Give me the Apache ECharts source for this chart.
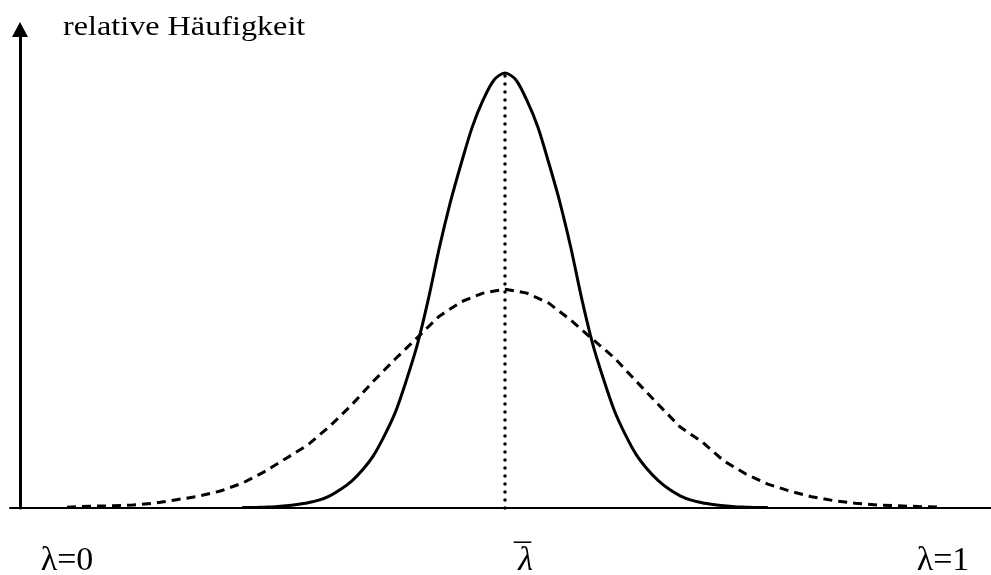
<!DOCTYPE html>
<html>
<head>
<meta charset="utf-8">
<script src="https://cdn.jsdelivr.net/npm/echarts@6/dist/echarts.min.js"></script>
<style>html,body{margin:0;padding:0;background:#fff}#c{width:991px;height:575px}</style>
</head>
<body>
<div id="c"></div>
<script>
// wide distribution (dashed): lambda grid 0 .. 1, step 0.025
const wideLambda = [0,0.025,0.05,0.075,0.1,0.125,0.15,0.175,0.2,0.225,0.25,0.275,0.3,0.325,0.35,0.375,0.4,0.425,0.45,0.475,0.5,0.525,0.55,0.575,0.6,0.625,0.65,0.675,0.7,0.725,0.75,0.775,0.8,0.825,0.85,0.875,0.9,0.925,0.95,0.975,1];
const wideValues = [0.002,0.004,0.005,0.007,0.011,0.019,0.027,0.039,0.057,0.083,0.114,0.145,0.188,0.237,0.292,0.343,0.392,0.441,0.474,0.494,0.503,0.494,0.471,0.432,0.388,0.345,0.291,0.238,0.186,0.152,0.108,0.078,0.055,0.039,0.026,0.017,0.011,0.007,0.005,0.003,0.002];
// narrow distribution (solid): lambda grid 0.2 .. 0.8, step 0.0125
const narrowLambda = [0.2,0.2125,0.225,0.2375,0.25,0.2625,0.275,0.2875,0.3,0.3125,0.325,0.3375,0.35,0.3625,0.375,0.3875,0.4,0.4125,0.425,0.4375,0.45,0.4625,0.475,0.4875,0.5,0.5125,0.525,0.5375,0.55,0.5625,0.575,0.5875,0.6,0.6125,0.625,0.6375,0.65,0.6625,0.675,0.6875,0.7,0.7125,0.725,0.7375,0.75,0.7625,0.775,0.7875,0.8];
const narrowValues = [0.001,0.001,0.002,0.003,0.005,0.008,0.012,0.018,0.028,0.043,0.062,0.088,0.121,0.167,0.221,0.294,0.376,0.480,0.598,0.702,0.792,0.875,0.938,0.984,1.000,0.984,0.937,0.876,0.793,0.704,0.600,0.482,0.378,0.296,0.223,0.168,0.122,0.089,0.063,0.043,0.028,0.018,0.012,0.008,0.005,0.003,0.002,0.001,0.001];
// mean and its height (dotted line)
const lambdaBar = 0.5;
const peakValue = 1.0;
// tick labels
const tickValues = [0, 0.5, 1];
const tickLabels = ['λ=0', 'λ', 'λ=1'];
const yAxisTitle = 'relative Häufigkeit';

const narrowData = narrowLambda.map((x, i) => [x, narrowValues[i]]);
const wideData = wideLambda.map((x, i) => [x, wideValues[i]]);

const chart = echarts.init(document.getElementById('c'), null, {renderer: 'canvas'});
const serif = '"Liberation Serif", "Times New Roman", serif';
chart.setOption({
  animation: false,
  backgroundColor: '#fff',
  grid: {left: 10, right: 0, top: 29.5, bottom: 67, containLabel: false, outerBoundsMode: 'none'},
  xAxis: {
    type: 'value',
    min: -57 / 876,
    max: 1 + 48 / 876,
    axisLine: {show: true, onZero: true, lineStyle: {color: '#000', width: 2}},
    axisTick: {show: false},
    splitLine: {show: false},
    axisLabel: {
      show: true,
      customValues: tickValues,
      margin: 36,
      color: '#000',
      fontSize: 34,
      lineHeight: 34,
      fontFamily: serif,
      hideOverlap: false,
      formatter: function (v) {
        const i = tickValues.indexOf(v);
        if (i < 0) return '';
        if (i === 1) return '{ov|\u00AF}\n{it|' + tickLabels[i] + '}';
        return tickLabels[i];
      },
      rich: {
        ov: {fontSize: 34, fontFamily: serif, color: '#000', lineHeight: 11.3, align: 'center', padding: [16, 0, 0, 35]},
        it: {fontStyle: 'italic', fontSize: 34, fontFamily: serif, color: '#000', lineHeight: 11.3, align: 'center', padding: [0, 0, 0, 41]}
      }
    }
  },
  yAxis: {
    type: 'value',
    min: 0,
    max: 1.1,
    offset: -10,
    axisLine: {show: true, onZero: false, symbol: ['none', 'triangle'], symbolSize: [16, 15], lineStyle: {color: '#000', width: 3}},
    axisTick: {show: false},
    axisLabel: {show: false},
    splitLine: {show: false}
  },
  graphic: [{
    type: 'text', x: 63, y: 27.2, scaleX: 1.15,
    style: {text: yAxisTitle, font: '28px ' + serif, fill: '#000', align: 'left', verticalAlign: 'middle'}
  }],
  series: [
    {
      type: 'line', data: wideData, showSymbol: false, smooth: false, silent: true,
      lineStyle: {color: '#000', width: 3, type: [9, 6]}
    },
    {
      type: 'line', data: narrowData, showSymbol: false, smooth: 0.3, silent: true,
      lineStyle: {color: '#000', width: 3},
      markLine: {
        silent: true, symbol: ['none', 'none'], label: {show: false},
        lineStyle: {color: '#000', width: 3.5, type: [0.1, 7.9], cap: 'round'},
        emphasis: {disabled: true},
        data: [[{coord: [lambdaBar, 0]}, {coord: [lambdaBar, peakValue]}]]
      }
    }
  ]
});
</script>
</body>
</html>
